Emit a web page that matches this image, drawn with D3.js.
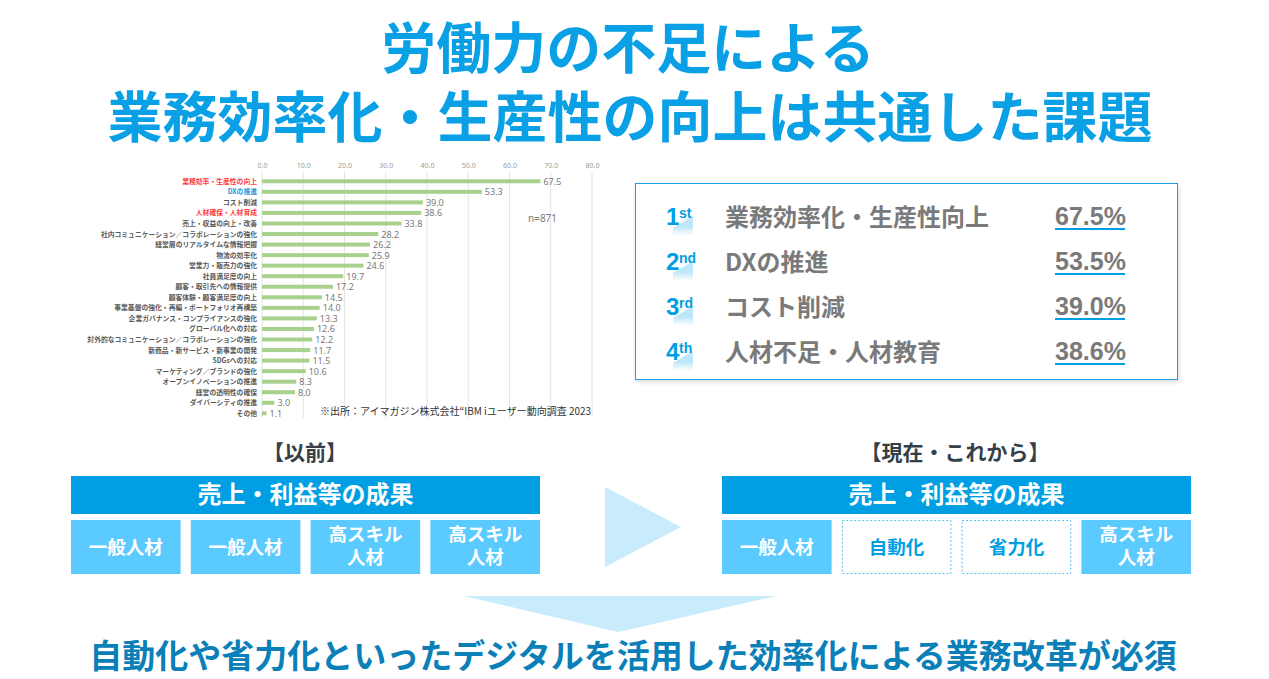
<!DOCTYPE html>
<html>
<head>
<meta charset="utf-8">
<script src="https://cdn.jsdelivr.net/npm/d3@7"></script>
<style>
  body { margin: 0; background: #fff; }
  svg { display: block; font-family: "Noto Sans CJK JP", "Noto Sans", sans-serif; }
</style>
</head>
<body>
<svg id="slide" width="1269" height="679"></svg>
<script>
// survey chart data
const categories = [
    '業務効率・生産性の向上', 'DXの推進', 'コスト削減', '人材確保・人材育成',
    '売上・収益の向上・改善', '社内コミュニケーション／コラボレーションの強化',
    '経営層のリアルタイムな情報把握', '物流の効率化', '営業力・販売力の強化',
    '社員満足度の向上', '顧客・取引先への情報提供', '顧客体験・顧客満足度の向上',
    '事業基盤の強化・再編・ポートフォリオ再構築', '企業ガバナンス・コンプライアンスの強化',
    'グローバル化への対応', '対外的なコミュニケーション／コラボレーションの強化',
    '新商品・新サービス・新事業の開発', 'SDGsへの対応', 'マーケティング／ブランドの強化',
    'オープンイノベーションの推進', '経営の透明性の確保', 'ダイバーシティの推進', 'その他'
];
const values = [67.5, 53.3, 39.0, 38.6, 33.8, 28.2, 26.2, 25.9, 24.6, 19.7, 17.2, 14.5,
    14.0, 13.3, 12.6, 12.2, 11.7, 11.5, 10.6, 8.3, 8.0, 3.0, 1.1];
const redLabels = ['業務効率・生産性の向上', '人材確保・人材育成'];
const blueLabels = ['DXの推進'];
const tickValues = [0, 10, 20, 30, 40, 50, 60, 70, 80];

// title lines
const titleLines = ['労働力の不足による', '業務効率化・生産性の向上は共通した課題'];

// ranking box
const rankNums = ['1', '2', '3', '4'];
const rankSuffix = ['st', 'nd', 'rd', 'th'];
const rankLabels = ['業務効率化・生産性向上', 'DXの推進', 'コスト削減', '人材不足・人材教育'];
const rankValues = [67.5, 53.5, 39.0, 38.6];

// before / after boxes
const beforeBoxes = [['一般人材'], ['一般人材'], ['高スキル', '人材'], ['高スキル', '人材']];
const afterBoxes = [['一般人材'], ['自動化'], ['省力化'], ['高スキル', '人材']];
const afterDashed = [false, true, true, false];

const svg = d3.select('#slide');
const blue = '#009fe3';
const lightBlue = '#5bcaff';
const paleBlue = '#c8ecfc';

// title (one text, two lines)
svg.append('text')
    .attr('text-anchor', 'middle')
    .attr('font-size', 55).attr('font-weight', 700)
    .attr('fill', '#0aa0e6')
    .selectAll('tspan')
    .data(titleLines)
    .join('tspan')
    .attr('x', (d, i) => i === 0 ? 628 : 630)
    .attr('y', (d, i) => i === 0 ? 68 : 137)
    .text(d => d);

// ---- bar chart ----
const xScale = d3.scaleLinear().domain([0, 80]).range([262, 592]);
const yScale = d3.scaleBand().domain(categories).range([176, 418.6]);

const chart = svg.append('g');

chart.selectAll('.grid')
    .data(tickValues)
    .join('line')
    .attr('class', 'grid')
    .attr('x1', d => xScale(d)).attr('x2', d => xScale(d))
    .attr('y1', 172).attr('y2', 418)
    .attr('stroke', '#e4e4e4').attr('stroke-width', 1);

const xAxis = d3.axisTop(xScale)
    .tickValues(tickValues)
    .tickFormat(d3.format('.1f'))
    .tickSize(0)
    .tickPadding(0);
const xAxisG = chart.append('g')
    .attr('transform', 'translate(0,168)')
    .call(xAxis);
xAxisG.select('.domain').remove();
xAxisG.selectAll('text')
    .attr('font-size', 7).attr('fill', '#9a9a9a')
    .attr('font-family', '"Noto Sans", sans-serif');

const barH = 4;
chart.selectAll('.bar')
    .data(categories)
    .join('rect')
    .attr('class', 'bar')
    .attr('x', xScale(0))
    .attr('y', d => yScale(d) + yScale.bandwidth() / 2 - barH / 2)
    .attr('width', (d, i) => xScale(values[i]) - xScale(0))
    .attr('height', barH)
    .attr('fill', '#a9d18e');

chart.selectAll('.val')
    .data(categories)
    .join('text')
    .attr('class', 'val')
    .attr('x', (d, i) => xScale(values[i]) + 3)
    .attr('y', d => yScale(d) + yScale.bandwidth() / 2 + 3.5)
    .attr('font-size', 9).attr('fill', '#7a7a7a')
    .attr('font-family', '"Noto Sans", sans-serif')
    .text((d, i) => d3.format('.1f')(values[i]));

chart.selectAll('.cat')
    .data(categories)
    .join('text')
    .attr('class', 'cat')
    .attr('x', 257)
    .attr('y', d => yScale(d) + yScale.bandwidth() / 2 + 2.5)
    .attr('text-anchor', 'end')
    .attr('font-size', 6.8).attr('font-weight', 700)
    .attr('fill', d => redLabels.includes(d) ? '#ff3b3b' : blueLabels.includes(d) ? '#1e9ad6' : '#595959')
    .text(d => d);

chart.append('text')
    .attr('x', 528).attr('y', 222)
    .attr('font-size', 10).attr('fill', '#7a7a7a')
    .attr('font-family', '"Noto Sans", sans-serif')
    .text('n=871');

chart.append('text')
    .attr('x', 320).attr('y', 415)
    .attr('font-size', 10).attr('fill', '#333')
    .text('※出所：アイマガジン株式会社“IBM iユーザー動向調査 2023');

// ---- ranking box ----
const defs = svg.append('defs');
const grad = defs.append('linearGradient')
    .attr('id', 'rankFade').attr('x1', 0).attr('y1', 0).attr('x2', 0).attr('y2', 1);
grad.append('stop').attr('offset', '0%').attr('stop-color', '#a6dcf7');
grad.append('stop').attr('offset', '100%').attr('stop-color', '#ffffff');

const filter = defs.append('filter').attr('id', 'shadow').attr('x', '-5%').attr('y', '-5%')
    .attr('width', '110%').attr('height', '115%');
filter.append('feDropShadow').attr('dx', 1).attr('dy', 2).attr('stdDeviation', 2)
    .attr('flood-color', '#000').attr('flood-opacity', 0.15);

svg.append('rect')
    .attr('x', 635.5).attr('y', 183.5).attr('width', 542).attr('height', 196)
    .attr('fill', '#fff').attr('stroke', '#1a9fe0').attr('stroke-width', 1)
    .attr('filter', 'url(#shadow)');

const rowY = d3.scalePoint().domain(rankNums).range([225, 360]);
const rows = svg.selectAll('.rank')
    .data(rankNums)
    .join('g')
    .attr('class', 'rank')
    .attr('transform', d => `translate(0,${rowY(d)})`);

rows.append('polygon')
    .attr('points', '673,3 693,-9 693,3')
    .attr('fill', '#bfe7fb');
rows.append('rect')
    .attr('x', 673).attr('y', 3).attr('width', 20).attr('height', 8)
    .attr('fill', 'url(#rankFade)').attr('opacity', 0.6);
rows.append('text')
    .attr('x', 666).attr('y', 0)
    .attr('font-size', 24).attr('font-weight', 700).attr('fill', blue)
    .attr('font-family', '"Liberation Sans", Arial, sans-serif')
    .attr('letter-spacing', -1)
    .text(d => d);
rows.append('text')
    .attr('x', 679).attr('y', -7)
    .attr('font-size', 14).attr('font-weight', 700).attr('fill', blue)
    .attr('font-family', '"Liberation Sans", Arial, sans-serif')
    .text((d, i) => rankSuffix[i]);
rows.append('text')
    .attr('x', 725).attr('y', 1)
    .attr('font-size', 24).attr('font-weight', 700).attr('fill', '#7a7a7a')
    .text((d, i) => rankLabels[i]);
rows.append('text')
    .attr('x', 1055).attr('y', 0)
    .attr('font-size', 25).attr('font-weight', 700).attr('fill', '#7a7a7a')
    .attr('font-family', '"Liberation Sans", Arial, sans-serif')
    .text((d, i) => d3.format('.1f')(rankValues[i]) + '%');
rows.append('line')
    .attr('x1', 1055).attr('x2', 1125)
    .attr('y1', 4).attr('y2', 4)
    .attr('stroke', blue).attr('stroke-width', 2);

// ---- before / after ----
function drawPanel(title, cx, x0, boxes, dashed) {
    const g = svg.append('g');
    g.append('text')
        .attr('x', cx).attr('y', 460)
        .attr('text-anchor', 'middle')
        .attr('font-size', 21).attr('font-weight', 700).attr('fill', '#343f48')
        .text(title);
    g.append('rect')
        .attr('x', x0).attr('y', 476).attr('width', 469).attr('height', 38)
        .attr('fill', blue);
    g.append('text')
        .attr('x', x0 + 234.5).attr('y', 503)
        .attr('text-anchor', 'middle')
        .attr('font-size', 24).attr('font-weight', 700).attr('fill', '#fff')
        .text('売上・利益等の成果');

    const bx = d3.scaleBand().domain(d3.range(boxes.length))
        .range([x0, x0 + 469]).paddingInner(0.085);
    const cells = g.selectAll('.cell')
        .data(boxes)
        .join('g')
        .attr('class', 'cell')
        .attr('transform', (d, i) => `translate(${bx(i)},520)`);
    cells.append('rect')
        .attr('x', (d, i) => dashed[i] ? 0.5 : 0)
        .attr('y', (d, i) => dashed[i] ? 0.5 : 0)
        .attr('width', (d, i) => bx.bandwidth() - (dashed[i] ? 1 : 0))
        .attr('height', (d, i) => 54 - (dashed[i] ? 1 : 0))
        .attr('fill', (d, i) => dashed[i] ? '#fff' : lightBlue)
        .attr('stroke', (d, i) => dashed[i] ? '#5bbfea' : 'none')
        .attr('stroke-dasharray', '2,2');
    // one text per box, wrapped with tspans
    cells.append('text')
        .attr('text-anchor', 'middle')
        .attr('font-size', 18.5).attr('font-weight', 700)
        .attr('fill', (d, i) => dashed[i] ? blue : '#fff')
        .each(function (d) {
            const top = d.length === 1 ? 34 : 21;
            d3.select(this).selectAll('tspan')
                .data(d)
                .join('tspan')
                .attr('x', bx.bandwidth() / 2)
                .attr('y', (line, j) => top + j * 23)
                .text(line => line);
        });
}

drawPanel('【以前】', 305, 71, beforeBoxes, [false, false, false, false]);
drawPanel('【現在・これから】', 955, 722, afterBoxes, afterDashed);

// arrows
svg.append('polygon')
    .attr('points', '605,487 681,527 605,567')
    .attr('fill', paleBlue);
svg.append('polygon')
    .attr('points', '464,596 776,596 618,632')
    .attr('fill', paleBlue);

// conclusion
svg.append('text')
    .attr('x', 633).attr('y', 668)
    .attr('text-anchor', 'middle')
    .attr('font-size', 33).attr('font-weight', 700).attr('fill', '#0b80b8')
    .text('自動化や省力化といったデジタルを活用した効率化による業務改革が必須');
</script>
</body>
</html>
